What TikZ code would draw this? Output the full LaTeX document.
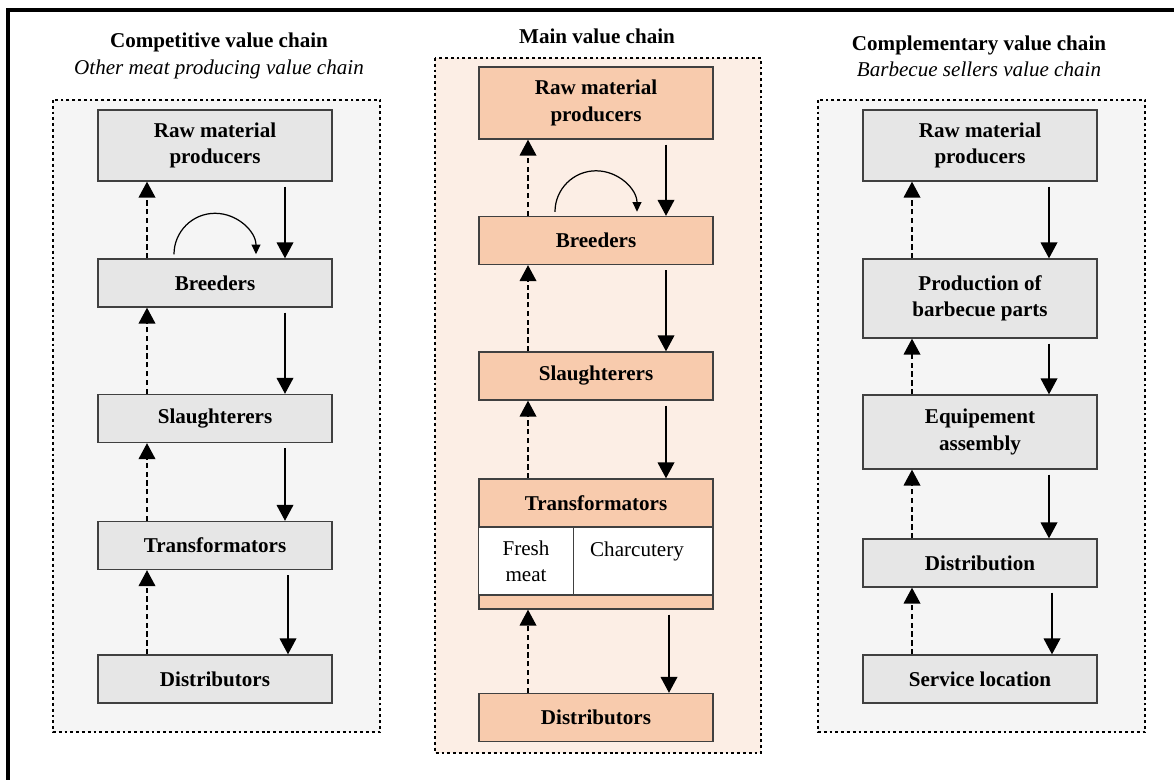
\documentclass[tikz,border=0pt]{standalone}
\usepackage{fontspec}
\setmainfont{Liberation Serif}
\usetikzlibrary{calc,arrows.meta}
\definecolor{panelgray}{HTML}{F5F5F5}
\definecolor{boxgray}{HTML}{E6E6E6}
\definecolor{panelpeach}{HTML}{FCEEE5}
\definecolor{boxpeach}{HTML}{F8CBAD}
\definecolor{edgegray}{HTML}{404040}
\def\uplink(#1)(#2){\draw[back] ($(#1.north)+(-68,0)$) -- ($(#2.south)+(-68,0)$);}
\def\downlink(#1)(#2)(#3){\draw[fwd] ($(#1.south)+(#3,5)$) -- ($(#2.north)+(#3,0)$);}
\def\selfloop(#1){\draw[loopy] ($(#1.north)+(-41,-4)$) arc (180:360:41);}

\begin{document}
\begin{tikzpicture}[x=0.02cm, y=-0.02cm,
		box/.style={draw=edgegray, line width=0.8pt, minimum width=4.68cm, minimum height=0.96cm, inner sep=0pt, align=center, font=\fontsize{12}{15}\selectfont\bfseries},
		graybox/.style={box, fill=boxgray},
		peachbox/.style={box, fill=boxpeach},
		cell/.style={draw=edgegray, line width=0.8pt, fill=white, minimum height=1.36cm, inner sep=0pt, align=center, font=\fontsize{12}{15}\selectfont},
		title/.style={align=center, font=\fontsize{12}{15}\selectfont},
		panel/.style={line width=1.6pt, dash pattern=on 1.6pt off 1.7pt},
		fwd/.style={line width=0.7pt, -{Triangle[width=9.5pt,length=9pt]}},
		back/.style={fwd, dash pattern=on 3pt off 2pt},
		loopy/.style={line width=0.7pt, -{Triangle[width=5pt,length=5.5pt]}}]
			%%%%% START %%%%%
			
			\useasboundingbox (0,0) rectangle (1174,780);
			\draw[line width=1.8pt] (8,780) -- (8,10) -- (1174,10);
			
			\draw[panel, fill=panelgray] (53,100) rectangle (380,732);
			\draw[panel, fill=panelpeach] (435,58) rectangle (761,753);
			\draw[panel, fill=panelgray] (818,100) rectangle (1145,732);
			
			\node[title] (ttl1) at (219,56) {\textbf{Competitive value chain}\\\textit{Other meat producing value chain}};
			\node[title] (ttl2) at (597,36) {\textbf{Main value chain}};
			\node[title] (ttl3) at (979,56) {\textbf{Complementary value chain}\\\textit{Barbecue sellers value chain}};
			
			% competitive
			\node[graybox, minimum height=1.42cm] (raw1) at (215,145.5) {Raw material\\producers};
			\node[graybox] (br1) at (215,283) {Breeders};
			\node[graybox] (sl1) at (215,418.5) {Slaughterers};
			\node[graybox] (tr1) at (215,545.5) {Transformators};
			\node[graybox] (di1) at (215,679) {Distributors};
			
			% main
			\node[peachbox, minimum height=1.44cm] (raw2) at (596,103) {Raw material\\producers};
			\node[peachbox] (br2) at (596,240.5) {Breeders};
			\node[peachbox] (sl2) at (596,376) {Slaughterers};
			\node[peachbox, minimum height=2.6cm] (tr2) at (596,544) {};
			\node[font=\fontsize{12}{15}\selectfont\bfseries] (tr2t) at (596,503) {Transformators};
			\node[cell, minimum width=1.9cm] (fresh) at (526,561) {Fresh\\meat};
			\node[cell, minimum width=2.78cm] (charc) at (643,561) {};
			\node[font=\fontsize{12}{15}\selectfont] (charct) at (637,551) {Charcutery};
			\node[peachbox] (di2) at (596,717.5) {Distributors};
			
			% complementary
			\node[graybox, minimum height=1.42cm] (raw3) at (980,145.5) {Raw material\\producers};
			\node[graybox, minimum height=1.58cm] (pr3) at (980,298.5) {Production of\\barbecue parts};
			\node[graybox, minimum height=1.48cm] (eq3) at (980,432) {Equipement\\assembly};
			\node[graybox] (ds3) at (980,563) {Distribution};
			\node[graybox] (sv3) at (980,679) {Service location};
			
			\downlink(raw1)(br1)(70) \downlink(br1)(sl1)(70) \downlink(sl1)(tr1)(70) \downlink(tr1)(di1)(73)
			\uplink(br1)(raw1) \uplink(sl1)(br1) \uplink(tr1)(sl1) \uplink(di1)(tr1)
			\selfloop(br1)
			
			\downlink(raw2)(br2)(70) \downlink(br2)(sl2)(70) \downlink(sl2)(tr2)(70) \downlink(tr2)(di2)(73)
			\uplink(br2)(raw2) \uplink(sl2)(br2) \uplink(tr2)(sl2) \uplink(di2)(tr2)
			\selfloop(br2)
			
			\downlink(raw3)(pr3)(69) \downlink(pr3)(eq3)(69) \downlink(eq3)(ds3)(69) \downlink(ds3)(sv3)(72)
			\uplink(pr3)(raw3) \uplink(eq3)(pr3) \uplink(ds3)(eq3) \uplink(sv3)(ds3)
			
			%%%%% END %%%%%
\end{tikzpicture}
\end{document}
